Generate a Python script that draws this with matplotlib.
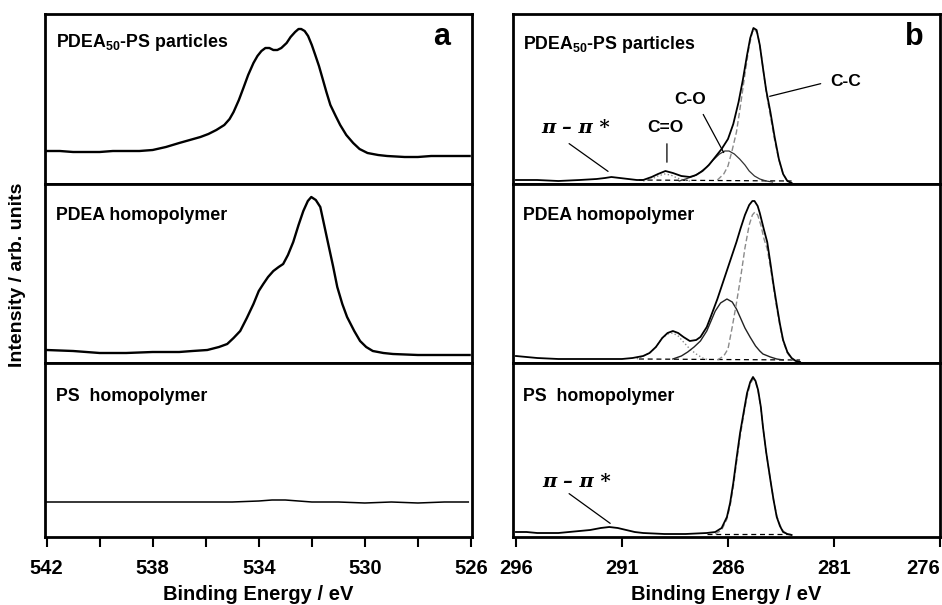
import numpy as np
import matplotlib
matplotlib.use('Agg')
import matplotlib.pyplot as plt

plt.rcParams['font.family'] = 'Liberation Sans'
plt.rcParams['font.weight'] = 'bold'
plt.rcParams['mathtext.fontset'] = 'custom'
plt.rcParams['mathtext.bf'] = 'Liberation Sans:bold'
plt.rcParams['mathtext.rm'] = 'Liberation Sans:bold'

# ---- O 1s (panel a) ----
o_top_e = [542, 541.5, 541, 540.5, 540, 539.5, 539, 538.5, 538, 537.5, 537, 536.6, 536.2, 535.9,
           535.6, 535.3, 535.1, 534.95, 534.75, 534.58, 534.4, 534.2, 534.05, 533.9, 533.75, 533.6,
           533.45, 533.3, 533.15, 532.95, 532.8, 532.63, 532.5, 532.4, 532.27, 532.14, 532.0, 531.87,
           531.73, 531.6, 531.45, 531.3, 531.1, 530.93, 530.7, 530.44, 530.2, 529.9, 529.5, 529.16,
           528.5, 528, 527.5, 527, 526.5, 526.05]
o_top_i = [33, 33, 32, 32, 32, 33, 33, 33, 34, 37, 41, 44, 47, 50,
           54, 59, 65, 72, 84, 96, 109, 121, 128, 133, 136, 136,
           134, 134, 136, 141, 147, 152, 155, 155, 153, 148, 139, 129,
           118, 106, 92, 79, 68, 59, 49, 41, 35, 31, 29, 28,
           27, 27, 28, 28, 28, 28]

o_mid_e = [542, 541, 540, 539, 538, 537, 536.5, 535.94, 535.5, 535.19, 534.95, 534.7, 534.45, 534.2,
           534.0, 533.83, 533.65, 533.45, 533.25, 533.08, 532.9, 532.7, 532.5, 532.32, 532.15, 532.02,
           531.85, 531.68, 531.55, 531.38, 531.2, 531.04, 530.85, 530.67, 530.4, 530.18, 529.95, 529.7,
           529.3, 528.94, 528, 527, 526.05]
o_mid_i = [13, 12, 10, 10, 11, 11, 12, 13, 16, 19, 25, 32, 45, 59,
           72, 79, 86, 92, 96, 99, 108, 121, 138, 152, 162, 166,
           163, 156, 140, 119, 97, 76, 59, 46, 32, 22, 16, 12,
           10, 9, 8, 8, 8]

o_bot_e = [542, 541, 540, 539, 538, 537, 536, 535, 534, 533.5, 533, 532.5, 532, 531, 530, 529, 528, 527, 526.1]
o_bot_i = [35, 35, 35, 35, 35, 35, 35, 35, 36, 37, 37, 36, 35, 35, 34, 35, 34, 35, 35]

# ---- C 1s (panel b) ----
# PDEA50-PS particles
c_top_e = [296.0, 295.0, 294.0, 293.0, 292.2, 291.8, 291.5, 291.1, 290.7, 290.3, 290.0, 289.6, 289.3,
           288.95, 288.6, 288.2, 287.8, 287.5, 287.2, 286.9, 286.6, 286.3, 286.0, 285.75, 285.5, 285.3,
           285.1, 284.95, 284.8, 284.65, 284.5, 284.35, 284.2, 284.0, 283.8, 283.6, 283.4, 283.2, 283.0]
c_top_i = [4, 4, 3, 4, 5, 6, 7, 6, 5, 4, 4, 7, 10,
           13, 11, 8, 7, 9, 13, 19, 27, 35, 45, 60, 82, 104,
           129, 146, 156, 154, 139, 116, 94, 72, 47, 25, 10, 3, 1]
c_top_cc_e = [286.5, 286.2, 286.0, 285.8, 285.6, 285.4, 285.2, 285.0, 284.85, 284.75, 284.6, 284.45,
              284.3, 284.15, 284.0, 283.8, 283.6, 283.4, 283.2, 283.0]
c_top_cc_i = [4, 10, 18, 34, 52, 80, 110, 138, 152, 155, 150, 132, 108, 86, 68, 44, 24, 10, 3, 1]
c_top_co_e = [288.3, 288.0, 287.6, 287.3, 287.0, 286.7, 286.4, 286.15, 285.95, 285.7, 285.45, 285.2,
              285.0, 284.75, 284.5, 284.2, 283.9]
c_top_co_i = [3, 5, 8, 12, 17, 24, 30, 33, 33, 30, 25, 19, 13, 8, 5, 3, 2]
c_top_cdo_e = [290.0, 289.6, 289.3, 289.0, 288.7, 288.4, 288.1, 287.8]
c_top_cdo_i = [3, 5, 8, 10, 9, 6, 4, 3]
c_top_base_e = [290.2, 283.0]
c_top_base_i = [4, 3]

# PDEA homopolymer
c_mid_e = [296.0, 295.5, 295.0, 294.0, 293.0, 292.0, 291.0, 290.5, 290.0, 289.7, 289.4, 289.1, 288.85,
           288.6, 288.35, 288.1, 287.8, 287.5, 287.3, 287.0, 286.8, 286.5, 286.2, 285.9, 285.6, 285.4,
           285.2, 285.0, 284.85, 284.75, 284.6, 284.5, 284.3, 284.15, 284.0, 283.85, 283.7, 283.55,
           283.4, 283.2, 283.0, 282.8, 282.6]
c_mid_i = [7, 6, 5, 4, 4, 4, 4, 5, 7, 10, 16, 25, 30,
           32, 30, 26, 22, 23, 26, 36, 47, 64, 83, 102, 121, 135,
           148, 158, 162, 162, 157, 150, 133, 121, 100, 78, 58, 39,
           23, 11, 5, 2, 1]
c_mid_cc_e = [286.5, 286.2, 286.0, 285.8, 285.6, 285.4, 285.2, 285.0, 284.85, 284.73, 284.6, 284.45,
              284.3, 284.15, 284.0, 283.85, 283.7, 283.55, 283.4, 283.2, 283.0, 282.8]
c_mid_cc_i = [3, 7, 14, 36, 60, 86, 115, 138, 148, 151, 148, 138, 124, 114, 96, 75, 55, 37, 22, 10, 4, 2]
c_mid_co_e = [288.6, 288.2, 287.9, 287.6, 287.3, 287.0, 286.8, 286.6, 286.35, 286.05, 285.8, 285.6,
              285.43, 285.2, 284.96, 284.7, 284.5, 284.35, 284.0, 283.7, 283.4]
c_mid_co_i = [4, 7, 11, 16, 22, 32, 42, 52, 60, 64, 61, 54, 46, 35, 26, 17, 12, 9, 6, 4, 3]
c_mid_cdo_e = [290.3, 290.0, 289.7, 289.4, 289.1, 288.85, 288.6, 288.35, 288.1, 287.8, 287.5, 287.2, 286.9]
c_mid_cdo_i = [4, 7, 10, 16, 25, 29, 30, 27, 21, 14, 9, 5, 3]
c_mid_base_e = [290.2, 282.6]
c_mid_base_i = [4, 3]

# PS homopolymer
c_bot_e = [296.0, 295.5, 295.0, 294.5, 294.0, 293.5, 293.0, 292.5, 292.0, 291.6, 291.2, 290.8, 290.4,
           290.0, 289.0, 288.0, 287.0, 286.6, 286.3, 286.05, 285.9, 285.75, 285.6, 285.43, 285.25,
           285.1, 284.95, 284.82, 284.7, 284.58, 284.45, 284.35, 284.2, 284.0, 283.85, 283.7, 283.55,
           283.4, 283.2, 283.0]
c_bot_i = [5, 5, 4, 4, 4, 5, 6, 7, 9, 10, 9, 7, 5,
           4, 3, 3, 4, 5, 9, 20, 34, 54, 78, 104, 126,
           144, 155, 160, 156, 147, 130, 110, 85, 57, 37, 20, 11,
           5, 3, 2]
c_bot_cc_e = [286.6, 286.3, 286.05, 285.9, 285.75, 285.6, 285.43, 285.25, 285.1, 284.95, 284.82, 284.7,
              284.58, 284.45, 284.35, 284.2, 284.0, 283.85, 283.7, 283.55, 283.4, 283.2]
c_bot_cc_i = [3, 7, 18, 31, 50, 74, 100, 123, 141, 153, 158, 155, 146, 129, 110, 85, 57, 37, 21, 12, 6, 3]
c_bot_base_e = [287.0, 283.0]
c_bot_base_i = [3, 3]

W, H = 942, 605
fig = plt.figure(figsize=(W / 100, H / 100), dpi=100)

# panel rows in pixels: (top, bottom)
rows = [(14, 184), (184, 363), (363, 537)]
cols = [(45, 472), (513, 940)]


def make_ax(col, row):
    x0, x1 = cols[col]
    y0, y1 = rows[row]
    ax = fig.add_axes([x0 / W, 1 - y1 / H, (x1 - x0) / W, (y1 - y0) / H])
    ax.set_ylim(0, y1 - y0)
    ax.set_yticks([])
    for s in ax.spines.values():
        s.set_linewidth(2)
    return ax


def bottom_axis(ax):
    ax.tick_params(axis='x', which='both', direction='out', length=7, width=1.5, pad=9,
                   labelsize=14.5)
    for t in ax.get_xticklabels():
        t.set_fontweight('bold')
    ax.set_xlabel('Binding Energy / eV', fontsize=14.5, fontweight='bold', labelpad=5)


gray = '#8a8a8a'
lab_kw = dict(fontsize=12.8, fontweight='bold', va='center', ha='left')
pi_kw = dict(fontsize=14, fontweight='bold', fontstyle='italic', family='DejaVu Serif', ha='center', va='center')
ann_kw = dict(fontsize=12.5, fontweight='bold', ha='center', va='center')
arrow_kw = dict(arrowstyle='-', color='black', lw=0.9)

names = [r'PDEA$_{\mathbf{50}}$-PS particles', 'PDEA homopolymer', 'PS  homopolymer']
name_y = [0.83, 0.825, 0.805]

# ---- left column ----
o_data = [(o_top_e, o_top_i), (o_mid_e, o_mid_i), (o_bot_e, o_bot_i)]
for r in range(3):
    ax = make_ax(0, r)
    e, i = o_data[r]
    ax.plot(e, i, color='black', lw=1.7 if r < 2 else 1.1)
    ax.set_xlim(542.06, 525.96)
    ax.set_xticks([542, 538, 534, 530, 526])
    ax.set_xticks([540, 536, 532, 528], minor=True)
    ax.text(0.025, name_y[r], names[r], transform=ax.transAxes, **lab_kw)
    if r < 2:
        ax.tick_params(axis='x', which='both', bottom=False, labelbottom=False)
    else:
        bottom_axis(ax)
    if r == 0:
        ax.text(0.93, 0.865, 'a', transform=ax.transAxes, fontsize=22, fontweight='bold',
                ha='center', va='center')

# ---- right column ----
c_env = [(c_top_e, c_top_i), (c_mid_e, c_mid_i), (c_bot_e, c_bot_i)]
for r in range(3):
    ax = make_ax(1, r)
    ax.set_xlim(296.14, 276.0)
    ax.set_xticks([296, 291, 286, 281, 276])
    ax.text(0.023, name_y[r] - 0.01 if r == 0 else name_y[r], names[r], transform=ax.transAxes, **lab_kw)
    if r == 0:
        ax.plot(c_top_base_e, c_top_base_i, color='black', lw=0.9, ls=(0, (4, 3)))
        ax.plot(c_top_cdo_e, c_top_cdo_i, color=gray, lw=1.0, ls=':')
        ax.plot(c_top_co_e, c_top_co_i, color='#333333', lw=0.9)
        ax.plot(c_top_cc_e, c_top_cc_i, color=gray, lw=1.0, ls=(0, (4, 2)))
        ax.text(0.94, 0.865, 'b', transform=ax.transAxes, fontsize=22, fontweight='bold',
                ha='center', va='center')
        ax.text(293.2, 56, r'π – π *', **pi_kw)
        ax.annotate('', xy=(291.55, 11), xytext=(293.6, 42), arrowprops=arrow_kw)
        ax.text(288.95, 56, 'C=O', **ann_kw)
        ax.annotate('', xy=(288.88, 19), xytext=(288.88, 43), arrowprops=arrow_kw)
        ax.text(287.8, 84, 'C-O', **ann_kw)
        ax.annotate('', xy=(286.14, 29), xytext=(287.23, 72), arrowprops=arrow_kw)
        ax.text(280.45, 102, 'C-C', **ann_kw)
        ax.annotate('', xy=(284.16, 87), xytext=(281.5, 101), arrowprops=arrow_kw)
    elif r == 1:
        ax.plot(c_mid_base_e, c_mid_base_i, color='black', lw=0.9, ls=(0, (4, 3)))
        ax.plot(c_mid_cdo_e, c_mid_cdo_i, color=gray, lw=1.0, ls=':')
        ax.plot(c_mid_co_e, c_mid_co_i, color='#222222', lw=1.0)
        ax.plot(c_mid_cc_e, c_mid_cc_i, color=gray, lw=1.0, ls=(0, (4, 2)))
    else:
        ax.plot(c_bot_base_e, c_bot_base_i, color='black', lw=0.9, ls=(0, (4, 3)))
        ax.plot(c_bot_cc_e, c_bot_cc_i, color=gray, lw=1.0, ls=(0, (4, 2)))
        ax.text(293.15, 55, r'π – π *', **pi_kw)
        ax.annotate('', xy=(291.45, 12), xytext=(293.6, 45), arrowprops=arrow_kw)
    e, i = c_env[r]
    ax.plot(e, i, color='black', lw=1.3)
    if r < 2:
        ax.tick_params(axis='x', which='both', bottom=False, labelbottom=False)
    else:
        bottom_axis(ax)
        # last label sits flush with the figure edge
        ax.get_xticklabels()[-1].set_horizontalalignment('right')

fig.text(18 / W, 1 - 275 / H, 'Intensity / arb. units', rotation=90, fontsize=14,
         fontweight='bold', ha='center', va='center')

fig.savefig('out.png', dpi=100)
